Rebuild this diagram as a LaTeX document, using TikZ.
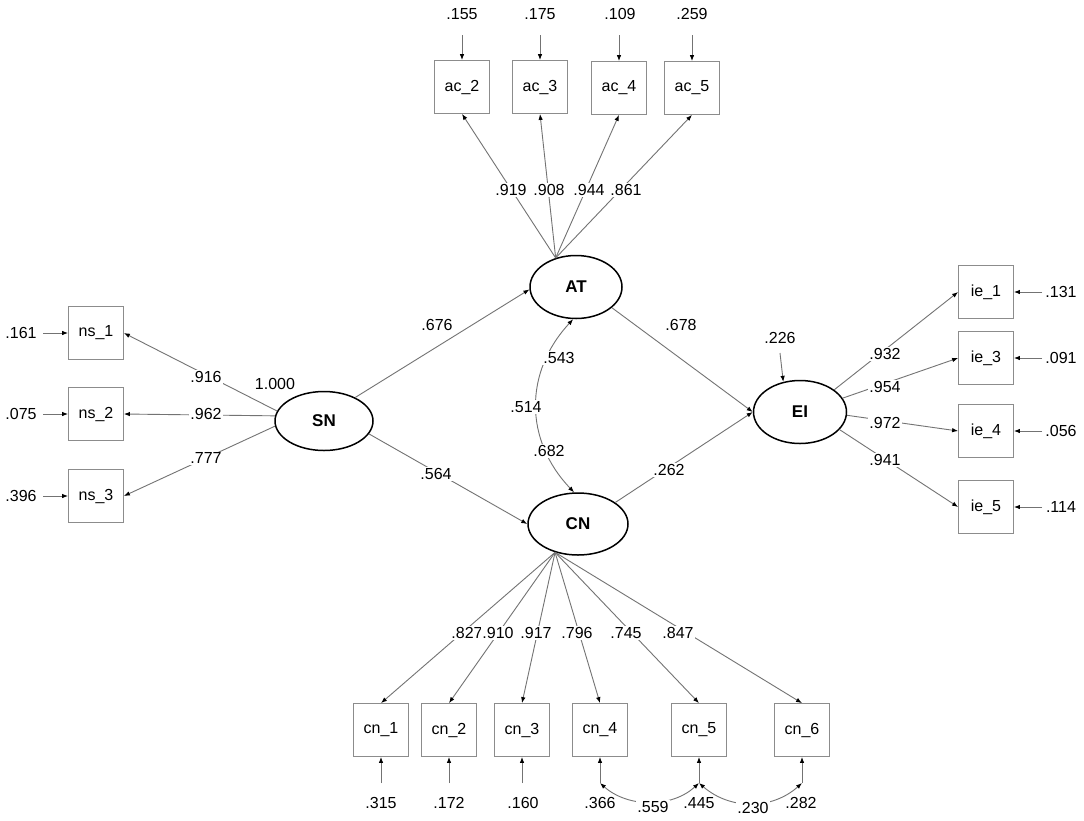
\documentclass[tikz,border=0pt]{standalone}
\usepackage{fontspec}
\setmainfont{Liberation Sans}
\usetikzlibrary{shapes.geometric,arrows.meta}
\begin{document}
\begin{tikzpicture}[x=1pt,y=-1pt,
  obs/.style={draw=black!45, line width=0.8pt, minimum width=55pt, minimum height=53pt, inner sep=0pt, font=\fontsize{16}{18}\selectfont},
  lat/.style={ellipse, draw=black, line width=1.5pt, inner sep=0pt, font=\fontsize{17}{19}\selectfont\bfseries},
  lbl/.style={fill=white, inner sep=1pt, font=\fontsize{16}{18}\selectfont},
  elbl/.style={inner sep=1pt, font=\fontsize{16}{18}\selectfont},
  arr/.style={draw=black!55, line width=0.9pt, -{Latex[length=6pt,width=4.5pt,color=black]}},
  cov/.style={draw=black!55, line width=0.9pt, {Latex[length=6pt,width=4.5pt,color=black]}-{Latex[length=6pt,width=4.5pt,color=black]}}
]
\fill[white] (0,0) rectangle (1084,820);
\useasboundingbox (0,0) rectangle (1084,820);

% latent variables
\node[lat, minimum width=92pt, minimum height=63pt] (AT) at (576,287) {AT};
\node[lat, minimum width=98pt, minimum height=59pt] (SN) at (324,421) {SN};
\node[lat, minimum width=100pt, minimum height=62pt] (CN) at (578,524) {CN};
\node[lat, minimum width=93pt, minimum height=63pt] (EI) at (800,412) {EI};

% observed: ac
\node[obs] (ac2) at (462,87) {ac\_2};
\node[obs] (ac3) at (540,87) {ac\_3};
\node[obs] (ac4) at (619,88) {ac\_4};
\node[obs] (ac5) at (692,88) {ac\_5};
% ns
\node[obs] (ns1) at (96,333) {ns\_1};
\node[obs] (ns2) at (96,414) {ns\_2};
\node[obs] (ns3) at (96,496) {ns\_3};
% ie
\node[obs] (ie1) at (986,292) {ie\_1};
\node[obs] (ie3) at (986,358) {ie\_3};
\node[obs] (ie4) at (986,431) {ie\_4};
\node[obs] (ie5) at (986,507) {ie\_5};
% cn
\node[obs] (cn1) at (381,730) {cn\_1};
\node[obs] (cn2) at (449,730) {cn\_2};
\node[obs] (cn3) at (522,730) {cn\_3};
\node[obs] (cn4) at (600,730) {cn\_4};
\node[obs] (cn5) at (699,730) {cn\_5};
\node[obs] (cn6) at (802,730) {cn\_6};

% error terms (free ends)
\coordinate (eac2) at (462,35);
\coordinate (eac3) at (540,35);
\coordinate (eac4) at (619,35);
\coordinate (eac5) at (692,35);
\coordinate (ens1) at (43,333);
\coordinate (ens2) at (43,414);
\coordinate (ens3) at (43,496);
\coordinate (eie1) at (1042,292);
\coordinate (eie3) at (1042,358);
\coordinate (eie4) at (1042,431);
\coordinate (eie5) at (1042,507);
\coordinate (ecn1) at (381,783);
\coordinate (ecn2) at (449,783);
\coordinate (ecn3) at (522,783);
\coordinate (ecn4) at (600,783);
\coordinate (ecn5) at (699,783);
\coordinate (ecn6) at (802,783);
\coordinate (eEI) at (780,353);

\foreach \b in {ac2,ac3,ac4,ac5,ns1,ns2,ns3,ie1,ie3,ie4,ie5,cn1,cn2,cn3,cn4,cn5,cn6}
  \draw[arr] (e\b) -- (\b);
\draw[arr] (eEI) -- (EI.119);

% error labels
\node[elbl] (lac2) at (462,14) {.155};
\node[elbl] (lac3) at (540,14) {.175};
\node[elbl] (lac4) at (620,14) {.109};
\node[elbl] (lac5) at (692,14) {.259};
\node[elbl] (lns1) at (21,333) {.161};
\node[elbl] (lns2) at (21,414) {.075};
\node[elbl] (lns3) at (21,496) {.396};
\node[elbl] (lie1) at (1061,292) {.131};
\node[elbl] (lie3) at (1061,358) {.091};
\node[elbl] (lie4) at (1061,431) {.056};
\node[elbl] (lie5) at (1061,507) {.114};
\node[elbl] (lcn1) at (381,803) {.315};
\node[elbl] (lcn2) at (449,803) {.172};
\node[elbl] (lcn3) at (523,803) {.160};
\node[elbl] (lcn4) at (600,803) {.366};
\node[elbl] (lcn6) at (801,803) {.282};
\node[elbl] (lEI) at (780,338) {.226};
\node[elbl] (lSN) at (275,384) {1.000};

% loadings AT
\draw[arr] (AT.125) -- (ac2.south);
\draw[arr] (AT.125) -- (ac3.south);
\draw[arr] (AT.125) -- (ac4.south);
\draw[arr] (AT.125) -- (ac5.south);
% loadings SN
\draw[arr] (SN.168) -- (ns1.east);
\draw[arr] (SN.174) -- (ns2.east);
\draw[arr] (SN.186) -- (ns3.east);
% loadings EI
\draw[arr] (EI.33) -- (ie1.west);
\draw[arr] (EI.18) -- (ie3.west);
\draw[arr] (EI.356) -- (ie4.west);
\draw[arr] (EI.336) -- (ie5.west);
% loadings CN
\foreach \b in {cn1,cn2,cn3,cn4,cn5,cn6}
  \draw[arr] (CN.231) -- (\b.north);

% structural paths
\draw[arr] (SN.37) -- (AT.183);
\draw[arr] (SN.344) -- (CN.west);
\draw[arr] (AT.330) -- (EI.west);
\draw[arr] (CN.30) -- (EI.west);

% covariances
\draw[cov] (AT.265) .. controls (524,372) and (524,440) .. (CN.97);
\draw[cov] (ecn4) .. controls (628,808) and (672,808) .. (ecn5);
\draw[cov] (ecn5) .. controls (730,810) and (772,810) .. (ecn6);

% path labels
\node[lbl] at (511,190) {.919};
\node[lbl] at (549,190) {.908};
\node[lbl] at (589,190) {.944};
\node[lbl] at (626,190) {.861};

\node[lbl] at (206,377) {.916};
\node[lbl] at (206,414) {.962};
\node[lbl] at (206,458) {.777};

\node[lbl] at (885,354) {.932};
\node[lbl] at (885,387) {.954};
\node[lbl] at (885,423) {.972};
\node[lbl] at (885,460) {.941};

\node[lbl] at (467,633) {.827};
\node[lbl] at (498,633) {.910};
\node[lbl] at (536,633) {.917};
\node[lbl] at (577,633) {.796};
\node[lbl] at (626,633) {.745};
\node[lbl] at (678,633) {.847};

\node[lbl] at (437,325) {.676};
\node[lbl] at (681,325) {.678};
\node[lbl] at (436,474) {.564};
\node[lbl] at (669,470) {.262};

\node[lbl] at (559,358) {.543};
\node[lbl] at (526,407) {.514};
\node[lbl] at (549,451) {.682};

\node[lbl] at (653,807) {.559};
\node[lbl] at (699,803) {.445};
\node[lbl] at (753,808) {.230};
\end{tikzpicture}
\end{document}
